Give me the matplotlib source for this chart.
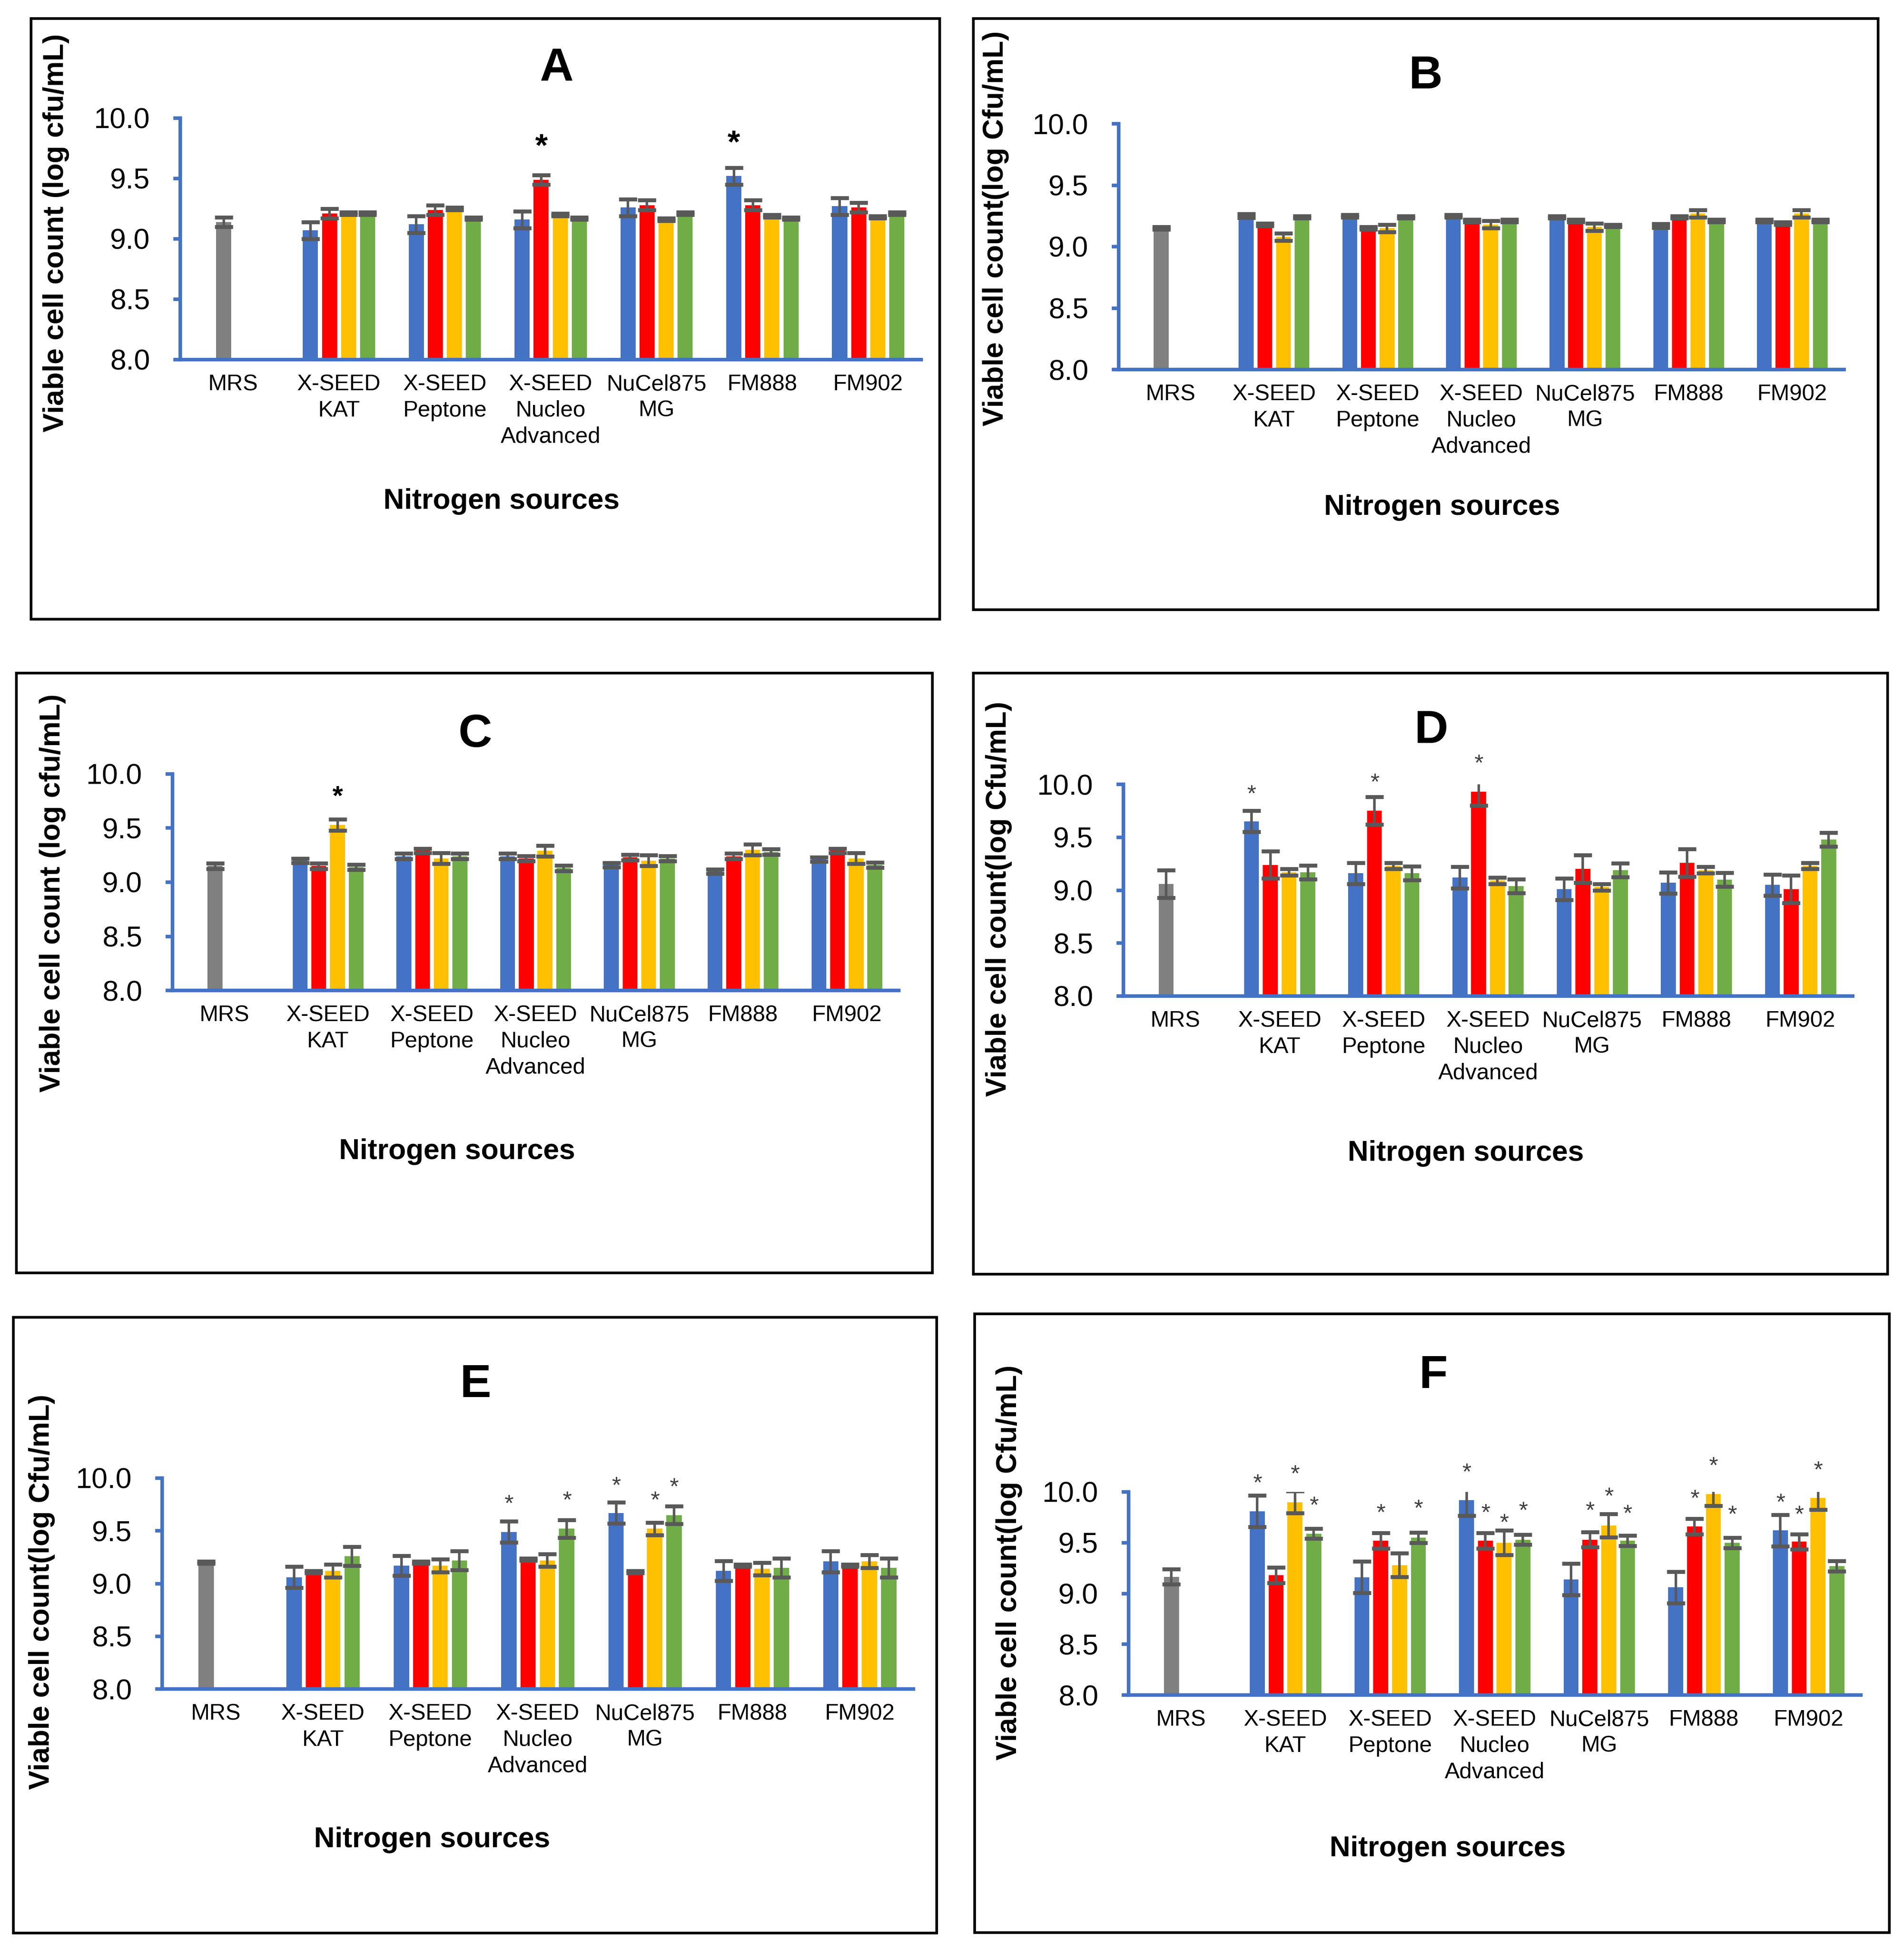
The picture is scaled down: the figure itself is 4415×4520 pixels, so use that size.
import numpy as np
import matplotlib.pyplot as plt
from matplotlib.patches import Rectangle

plt.rcParams['font.family'] = ['Liberation Sans', 'DejaVu Sans']

# =========================
# DATA
# =========================
categories = ['MRS', 'X-SEED\nKAT', 'X-SEED\nPeptone', 'X-SEED\nNucleo\nAdvanced',
              'NuCel875\nMG', 'FM888', 'FM902']
yticks = [8.0, 8.5, 9.0, 9.5, 10.0]
panel_names = ['A', 'B', 'C', 'D', 'E', 'F']
ylabels = ['Viable cell count (log cfu/mL)', 'Viable cell count(log Cfu/mL)',
           'Viable cell count (log cfu/mL)', 'Viable cell count(log Cfu/mL)',
           'Viable cell count(log Cfu/mL)', 'Viable cell count(log Cfu/mL)']
xlabel = 'Nitrogen sources'

# MRS control, one per panel A-F
mrs_vals = [9.14, 9.15, 9.15, 9.06, 9.20, 9.165]
mrs_errs = [0.04, 0.01, 0.025, 0.13, 0.01, 0.075]

# rows: blue, red, yellow, green series; columns: the 6 nitrogen sources after MRS
a_vals = [[9.07, 9.12, 9.16, 9.26, 9.52, 9.27],
          [9.21, 9.24, 9.49, 9.28, 9.28, 9.26],
          [9.21, 9.25, 9.20, 9.16, 9.19, 9.18],
          [9.21, 9.17, 9.17, 9.21, 9.17, 9.21]]
a_errs = [[0.07, 0.07, 0.07, 0.07, 0.07, 0.07],
          [0.04, 0.04, 0.04, 0.04, 0.04, 0.04],
          [0.01, 0.01, 0.01, 0.01, 0.01, 0.01],
          [0.01, 0.01, 0.01, 0.01, 0.01, 0.01]]

b_vals = [[9.25, 9.25, 9.25, 9.24, 9.17, 9.21],
          [9.18, 9.15, 9.21, 9.21, 9.24, 9.19],
          [9.08, 9.15, 9.18, 9.16, 9.27, 9.27],
          [9.24, 9.24, 9.21, 9.17, 9.21, 9.21]]
b_errs = [[0.015, 0.01, 0.01, 0.01, 0.015, 0.01],
          [0.01, 0.01, 0.01, 0.01, 0.01, 0.01],
          [0.03, 0.03, 0.03, 0.03, 0.03, 0.03],
          [0.01, 0.01, 0.01, 0.01, 0.01, 0.01]]

c_vals = [[9.20, 9.24, 9.24, 9.16, 9.10, 9.21],
          [9.15, 9.29, 9.22, 9.23, 9.24, 9.29],
          [9.53, 9.22, 9.29, 9.20, 9.30, 9.22],
          [9.14, 9.24, 9.13, 9.22, 9.28, 9.16]]
c_errs = [[0.02, 0.025, 0.025, 0.02, 0.02, 0.02],
          [0.025, 0.02, 0.025, 0.025, 0.025, 0.02],
          [0.05, 0.05, 0.05, 0.05, 0.05, 0.05],
          [0.025, 0.025, 0.025, 0.025, 0.025, 0.025]]

d_vals = [[9.65, 9.16, 9.12, 9.01, 9.07, 9.05],
          [9.24, 9.75, 9.93, 9.20, 9.26, 9.01],
          [9.17, 9.23, 9.09, 9.03, 9.19, 9.23],
          [9.17, 9.16, 9.04, 9.19, 9.10, 9.48]]
d_errs = [[0.10, 0.10, 0.10, 0.10, 0.10, 0.10],
          [0.13, 0.13, 0.13, 0.13, 0.13, 0.13],
          [0.03, 0.03, 0.03, 0.03, 0.03, 0.03],
          [0.065, 0.065, 0.065, 0.065, 0.065, 0.065]]

e_vals = [[9.06, 9.17, 9.49, 9.67, 9.12, 9.21],
          [9.11, 9.20, 9.23, 9.11, 9.17, 9.17],
          [9.12, 9.17, 9.22, 9.52, 9.14, 9.21],
          [9.26, 9.22, 9.52, 9.65, 9.15, 9.15]]
e_errs = [[0.10, 0.095, 0.10, 0.10, 0.095, 0.10],
          [0.01, 0.01, 0.01, 0.01, 0.01, 0.01],
          [0.06, 0.06, 0.06, 0.06, 0.06, 0.06],
          [0.09, 0.09, 0.085, 0.085, 0.09, 0.09]]

f_vals = [[9.81, 9.16, 9.92, 9.14, 9.06, 9.62],
          [9.18, 9.52, 9.52, 9.53, 9.66, 9.51],
          [9.90, 9.28, 9.50, 9.67, 9.98, 9.94],
          [9.59, 9.55, 9.53, 9.52, 9.50, 9.27]]
f_errs = [[0.155, 0.155, 0.155, 0.155, 0.155, 0.155],
          [0.075, 0.075, 0.075, 0.075, 0.075, 0.075],
          [0.11, 0.115, 0.12, 0.115, 0.115, 0.115],
          [0.05, 0.05, 0.05, 0.05, 0.05, 0.05]]

# significance asterisks: (category index, series index, height in log units)
a_stars = [(3, 1, 9.84), (5, 0, 9.87)]
b_stars = []
c_stars = [(1, 2, 9.86)]
d_stars = [(1, 0, 9.97), (2, 1, 10.08), (3, 1, 10.26)]
e_stars = [(3, 0, 9.82), (3, 3, 9.85), (4, 0, 9.99), (4, 2, 9.85), (4, 3, 9.98)]
f_stars = [(1, 0, 10.15), (1, 2, 10.24), (1, 3, 9.93),
           (2, 1, 9.86), (2, 3, 9.90),
           (3, 0, 10.26), (3, 1, 9.86), (3, 2, 9.76), (3, 3, 9.88),
           (4, 1, 9.88), (4, 2, 10.02), (4, 3, 9.85),
           (5, 1, 10.00), (5, 2, 10.32), (5, 3, 9.84),
           (6, 0, 9.96), (6, 1, 9.84), (6, 2, 10.28)]

all_vals = [a_vals, b_vals, c_vals, d_vals, e_vals, f_vals]
all_errs = [a_errs, b_errs, c_errs, d_errs, e_errs, f_errs]
all_stars = [a_stars, b_stars, c_stars, d_stars, e_stars, f_stars]

# =========================
# STYLE / LAYOUT (pixel positions in the 4415x4520 image)
# =========================
W, H = 4415, 4520
DPI = 300
colors = ['#4472C4', '#FF0000', '#FFC000', '#70AD47']
mrs_color = '#808080'
err_color = '#595959'
axis_color = '#4472C4'
offsets = [-0.27, -0.09, 0.09, 0.27]
bar_w = 0.143

# box (x0, y0, x1, y1), axes (left, right, y at 10.0, y at 8.0), title, ylabel, xlabel centres
layout = [
    dict(box=(72, 43, 2179, 1436), ax=(418, 2136, 274, 834), title=(1290, 159), ylab=(130, 540), xlab=(1163, 1163)),
    dict(box=(2257, 43, 4355, 1414), ax=(2594, 4276, 287, 857), title=(3306, 177), ylab=(2309, 530), xlab=(3344, 1177)),
    dict(box=(38, 1561, 2162, 2952), ax=(400, 2084, 1795, 2297), title=(1102, 1704), ylab=(122, 2071), xlab=(1060, 2671)),
    dict(box=(2257, 1561, 4377, 2955), ax=(2605, 4296, 1819, 2310), title=(3319, 1695), ylab=(2316, 2085), xlab=(3399, 2675)),
    dict(box=(31, 3055, 2172, 4483), ax=(376, 2118, 3428, 3917), title=(1103, 3212), ylab=(97, 3692), xlab=(1002, 4267)),
    dict(box=(2260, 3047, 4381, 4482), ax=(2617, 4315, 3460, 3931), title=(3324, 3191), ylab=(2340, 3624), xlab=(3357, 4288)),
]
star_styles = [
    dict(fontsize=18, fontweight='bold', color='black'),
    dict(fontsize=13, color='#404040'),
    dict(fontsize=15, fontweight='bold', color='black'),
    dict(fontsize=13, color='#404040'),
    dict(fontsize=13, color='#404040'),
    dict(fontsize=13, color='#404040'),
]


def fx(px):
    return px / W


def fy(py):
    return 1 - py / H


fig = plt.figure(figsize=(W / DPI, H / DPI), dpi=DPI)

for p in range(6):
    lay = layout[p]
    # panel frame
    x0, y0, x1, y1 = lay['box']
    fig.add_artist(Rectangle((fx(x0), fy(y1)), fx(x1) - fx(x0), fy(y0) - fy(y1),
                             transform=fig.transFigure, fill=False, edgecolor='black', linewidth=1.5))

    l, r, t10, b8 = lay['ax']
    ax = fig.add_axes([fx(l), fy(b8), fx(r) - fx(l), fy(t10) - fy(b8)])

    # MRS control bar
    ax.bar(0.5 + offsets[1], mrs_vals[p], bar_w, bottom=0, color=mrs_color, zorder=2)
    ax.errorbar(0.5 + offsets[1], mrs_vals[p], yerr=mrs_errs[p], fmt='none', ecolor=err_color,
                elinewidth=1.4, capsize=5, capthick=2.2, zorder=3)

    xs = np.arange(1, 7) + 0.5
    for s in range(4):
        ax.bar(xs + offsets[s], all_vals[p][s], bar_w, color=colors[s], zorder=2)
        ax.errorbar(xs + offsets[s], all_vals[p][s], yerr=all_errs[p][s], fmt='none', ecolor=err_color,
                    elinewidth=1.4, capsize=5, capthick=2.2, zorder=3)

    for cat, s, yv in all_stars[p]:
        st = star_styles[p]
        ax.annotate('*', (cat + 0.5 + offsets[s], yv), xytext=(0, -0.57 * st['fontsize']),
                    textcoords='offset points', ha='center', va='baseline',
                    annotation_clip=False, **st)

    ax.set_xlim(0, 7)
    ax.set_ylim(8, 10)
    ax.set_yticks(yticks)
    ax.set_yticklabels([f'{v:.1f}' for v in yticks], fontsize=16)
    ax.set_xticks(np.arange(7) + 0.5)
    ax.set_xticklabels(categories, fontsize=12.5, linespacing=1.3)
    ax.tick_params(axis='x', length=0, pad=8)
    ax.tick_params(axis='y', length=3.8, width=2, color=axis_color, pad=13)
    for side in ['top', 'right']:
        ax.spines[side].set_visible(False)
    for side in ['left', 'bottom']:
        ax.spines[side].set_color(axis_color)
        ax.spines[side].set_linewidth(2)
        ax.spines[side].set_zorder(5)
    ax.patch.set_alpha(0)

    tx, ty = lay['title']
    fig.text(fx(tx), fy(ty), panel_names[p], fontsize=26, fontweight='bold', ha='center', va='center')
    lx, ly = lay['ylab']
    fig.text(fx(lx), fy(ly), ylabels[p], fontsize=16, fontweight='bold', rotation=90,
             ha='center', va='center')
    gx, gy = lay['xlab']
    fig.text(fx(gx), fy(gy), xlabel, fontsize=16, fontweight='bold', ha='center', va='center')

fig.savefig('out.png', dpi=DPI)
